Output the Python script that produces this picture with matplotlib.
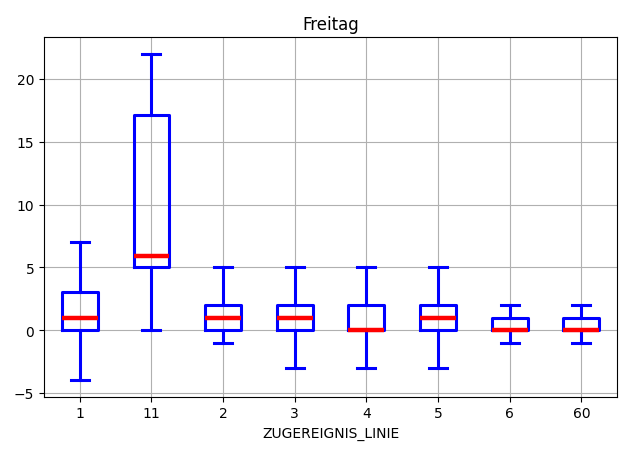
import matplotlib
matplotlib.use("Agg")
import matplotlib.pyplot as plt

# Freitag: Verspaetungen je Linie (Boxplot-Kennwerte)
linien = ["1", "11", "2", "3", "4", "5", "6", "60"]
whislo = [-4, 0, -1, -3, -3, -3, -1, -1]
q1 = [0, 5, 0, 0, 0, 0, 0, 0]
med = [1, 5.9, 1, 1, 0, 1, 0, 0]
q3 = [3, 17.1, 2, 2, 2, 2, 1, 1]
whishi = [7, 22, 5, 5, 5, 5, 2, 2]

stats = []
for i, name in enumerate(linien):
    stats.append({"label": name, "whislo": whislo[i], "q1": q1[i], "med": med[i],
                  "q3": q3[i], "whishi": whishi[i], "fliers": []})

fig = plt.figure(figsize=(6.19, 4.52), dpi=100)
ax = fig.add_axes([0.071, 0.12, 0.926, 0.795])

ax.bxp(stats, showfliers=False,
       boxprops=dict(color="blue", linewidth=2.2),
       whiskerprops=dict(color="blue", linewidth=2.2),
       capprops=dict(color="blue", linewidth=2.2),
       medianprops=dict(color="red", linewidth=3.2))

ax.grid(True, color="#b0b0b0", linewidth=0.8)
ax.set_axisbelow(True)
ax.set_title("Freitag")
ax.set_xlabel("ZUGEREIGNIS_LINIE")

fig.savefig("out.png", dpi=100)
